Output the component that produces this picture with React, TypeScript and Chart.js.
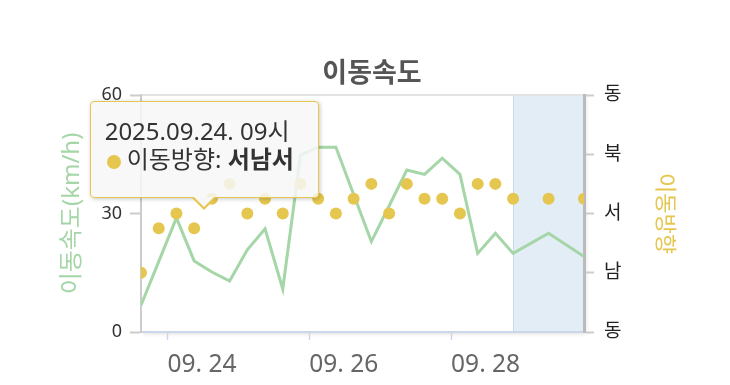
import React, { useEffect, useRef } from 'react';
import { Chart, registerables } from 'chart.js';

Chart.register(...registerables);

// ---- texts ----
const CHART_TITLE = '이동속도';
const SPEED_AXIS_TITLE = '이동속도(km/h)';
const DIR_AXIS_TITLE = '이동방향';
const SPEED_SERIES_NAME = '이동속도';
const DIR_SERIES_NAME = '이동방향';

// ---- time (hours counted from 2025-09-24 00시) ----
const YEAR = '2025';
const MONTH = '09';
const BASE_DAY = 24;
const hours = [-9, -3, 3, 9, 15, 21, 27, 33, 39, 45, 51, 57, 63, 69, 75, 81, 87, 93, 99, 105, 111, 117, 129, 141];
const X_MIN = -9;
const X_MAX = 141;
const FORECAST_START = 117;

// ---- series values ----
const speeds = [6.8, 17.8, 28.9, 18.0, 15.2, 12.9, 20.8, 26.1, 10.9, 44.8, 46.8, 46.8, 34.8, 22.9, 31.9, 41.0, 39.9, 44.0, 39.9, 19.9, 25.0, 19.9, 25.0, 19.1];
// direction in degrees (0 = 북, 90 = 동, 180 = 남, 270 = 서)
const directions = [180, 247.5, 270, 247.5, 292.5, 315, 270, 292.5, 270, 315, 292.5, 270, 292.5, 315, 270, 315, 292.5, 292.5, 270, 315, 315, 292.5, 292.5, 292.5];

// ---- ticks ----
const X_TICK_HOURS = [0, 48, 96];
const X_TICK_LABELS = ['09. 24', '09. 26', '09. 28'];
const SPEED_TICKS = [0, 30, 60];
const DIR_TICK_VALUES = [90, 180, 270, 360, 450];
const DIR_TICK_LABELS = ['동', '남', '서', '북', '동'];
const COMPASS_16 = ['북', '북북동', '북동', '동북동', '동', '동남동', '남동', '남남동', '남', '남남서', '남서', '서남서', '서', '서북서', '북서', '북북서'];

const HOVER_INDEX = 3;

// ---- styles ----
const FONT = "'Noto Sans', 'Noto Sans CJK KR', sans-serif";
const GREEN = '#a5d6a7';
const GOLD = '#e5c64f';

function hourLabel(h: number): string {
  const day = BASE_DAY + Math.floor(h / 24);
  const hh = ((h % 24) + 24) % 24;
  return `${YEAR}.${MONTH}.${String(day).padStart(2, '0')}. ${String(hh).padStart(2, '0')}시`;
}
function compassName(deg: number): string {
  const i = Math.round((((deg % 360) + 360) % 360) / 22.5) % 16;
  return COMPASS_16[i];
}

const plotDecor = {
  id: 'plotDecor',
  beforeDraw(chart: any) {
    const { ctx, chartArea: a, scales } = chart;
    ctx.save();
    ctx.shadowColor = 'rgba(0,0,0,0.13)';
    ctx.shadowBlur = 4;
    ctx.shadowOffsetX = 2;
    ctx.shadowOffsetY = 2;
    ctx.fillStyle = '#ffffff';
    ctx.fillRect(a.left, a.top, a.right - a.left, a.bottom - a.top);
    ctx.restore();
    const x0 = scales.x.getPixelForValue(FORECAST_START);
    const x1 = scales.x.getPixelForValue(X_MAX);
    ctx.save();
    ctx.fillStyle = '#e3edf6';
    ctx.fillRect(x0, a.top, x1 - x0, a.bottom - a.top);
    ctx.strokeStyle = '#c6daee';
    ctx.lineWidth = 1;
    ctx.beginPath();
    ctx.moveTo(Math.round(x0) + 0.5, a.top);
    ctx.lineTo(Math.round(x0) + 0.5, a.bottom);
    ctx.stroke();
    ctx.strokeStyle = '#e3e3e3';
    ctx.lineWidth = 2;
    ctx.beginPath();
    ctx.moveTo(a.left, a.top);
    ctx.lineTo(a.right, a.top);
    ctx.stroke();
    ctx.restore();
  },
};

function externalTooltip({ chart, tooltip }: any) {
  const parent = chart.canvas.parentNode as HTMLElement;
  let el = parent.querySelector('.cj-tt') as HTMLDivElement | null;
  if (!el) {
    el = document.createElement('div');
    el.className = 'cj-tt';
    parent.appendChild(el);
  }
  if (tooltip.opacity === 0 || !tooltip.dataPoints || !tooltip.dataPoints.length) {
    el.style.display = 'none';
    return;
  }
  const dp = tooltip.dataPoints[0];
  const idx = dp.dataIndex;
  const title = hourLabel(hours[idx]);
  const dirName = compassName(directions[idx]);
  el.style.cssText = [
    'position:absolute',
    'display:block',
    'pointer-events:none',
    'box-sizing:border-box',
    'width:229px',
    'height:97px',
    'background:rgba(247,247,247,0.85)',
    `border:1.5px solid ${GOLD}`,
    'border-radius:4px',
    'box-shadow:1px 1px 4px rgba(0,0,0,0.22)',
    'padding:15px 14px 0 14px',
    `font-family:${FONT}`,
    'font-size:24px',
    'line-height:28px',
    'color:#333',
    'white-space:nowrap',
  ].join(';');
  el.innerHTML =
    `<div>${title}</div>` +
    `<div><span style="display:inline-block;width:14px;height:14px;border-radius:50%;background:${GOLD};margin:0 6px 0 2px;vertical-align:-1px"></span>${DIR_SERIES_NAME}: <b>${dirName}</b></div>` +
    `<div style="position:absolute;left:50%;bottom:-13px;margin-left:-12px;width:0;height:0;border-left:12px solid transparent;border-right:12px solid transparent;border-top:12px solid ${GOLD}"></div>` +
    `<div style="position:absolute;left:50%;bottom:-10px;margin-left:-10px;width:0;height:0;border-left:10px solid transparent;border-right:10px solid transparent;border-top:10px solid #f7f7f7"></div>`;
  const w = el.offsetWidth;
  const h = el.offsetHeight;
  const tipX = tooltip.caretX + 10;
  const tipY = tooltip.caretY - 18;
  el.style.left = `${tipX - w / 2}px`;
  el.style.top = `${tipY - 12 - h}px`;
}

export default function App() {
  const canvasRef = useRef<HTMLCanvasElement | null>(null);

  useEffect(() => {
    const canvas = canvasRef.current;
    if (!canvas) return;
    const chart = new Chart(canvas, {
      type: 'line',
      data: {
        datasets: [
          {
            label: DIR_SERIES_NAME,
            data: hours.map((h, i) => ({ x: h, y: directions[i] })),
            yAxisID: 'yDir',
            showLine: false,
            pointRadius: 6,
            pointHoverRadius: 6,
            pointBackgroundColor: GOLD,
            pointBorderWidth: 0,
            pointHoverBorderWidth: 0,
            pointHoverBackgroundColor: GOLD,
            borderColor: GOLD,
            order: 0,
          },
          {
            label: SPEED_SERIES_NAME,
            data: hours.map((h, i) => ({ x: h, y: speeds[i] })),
            yAxisID: 'ySpeed',
            borderColor: GREEN,
            borderWidth: 3,
            pointRadius: 0,
            pointHoverRadius: 0,
            tension: 0,
            fill: false,
            order: 1,
          },
        ],
      } as any,
      options: {
        responsive: false,
        animation: false,
        devicePixelRatio: 1,
        events: [],
        layout: { padding: { left: 14, right: 0, top: 0, bottom: 0 } },
        scales: {
          x: {
            type: 'linear',
            min: X_MIN,
            max: X_MAX,
            afterBuildTicks: (s: any) => {
              s.ticks = X_TICK_HOURS.map((v) => ({ value: v }));
            },
            afterFit: (s: any) => {
              s.height = 53;
            },
            grid: { drawOnChartArea: false, tickLength: 8, tickColor: '#ccd6eb', tickWidth: 1.5 },
            border: { color: '#ccd6eb', width: 2 },
            ticks: {
              align: 'start',
              autoSkip: false,
              maxRotation: 0,
              padding: 10,
              color: '#666',
              font: { family: FONT, size: 24.5 },
              callback: (v: any) => {
                const i = X_TICK_HOURS.indexOf(Number(v));
                return i >= 0 ? X_TICK_LABELS[i] : '';
              },
            },
          },
          ySpeed: {
            type: 'linear',
            position: 'left',
            min: 0,
            max: 60,
            afterBuildTicks: (s: any) => {
              s.ticks = SPEED_TICKS.map((v) => ({ value: v }));
            },
            afterFit: (s: any) => {
              s.width = 127;
            },
            grid: { drawOnChartArea: false, tickLength: 11, tickColor: '#cccccc', tickWidth: 2 },
            border: { color: '#cccccc', width: 2 },
            ticks: { padding: 8, color: '#333', font: { family: FONT, size: 18 } },
            title: {
              display: true,
              text: SPEED_AXIS_TITLE,
              color: GREEN,
              font: { family: FONT, size: 24 },
              padding: { top: 44, bottom: 0 },
            },
          },
          yDir: {
            type: 'linear',
            position: 'right',
            min: 90,
            max: 450,
            afterBuildTicks: (s: any) => {
              s.ticks = DIR_TICK_VALUES.map((v) => ({ value: v }));
            },
            afterFit: (s: any) => {
              s.width = 146;
            },
            grid: { drawOnChartArea: false, tickLength: 10, tickColor: '#cccccc', tickWidth: 2 },
            border: { color: '#bbbbbb', width: 3 },
            ticks: {
              padding: 10,
              color: '#222',
              font: { family: FONT, size: 19 },
              callback: (v: any) => {
                const i = DIR_TICK_VALUES.indexOf(Number(v));
                return i >= 0 ? DIR_TICK_LABELS[i] : '';
              },
            },
            title: {
              display: true,
              text: DIR_AXIS_TITLE,
              color: GOLD,
              font: { family: FONT, size: 22 },
              padding: { top: 53, bottom: 0 },
            },
          },
        },
        plugins: {
          legend: { display: false },
          title: {
            display: true,
            text: CHART_TITLE,
            color: '#555',
            font: { family: FONT, size: 27, weight: 'bold' },
            padding: { top: 58, bottom: 4.6 },
          },
          tooltip: { enabled: false, external: externalTooltip },
        },
      } as any,
      plugins: [plotDecor],
    });

    chart.tooltip?.setActiveElements([{ datasetIndex: 0, index: HOVER_INDEX }], { x: 0, y: 0 });
    chart.update();

    return () => {
      chart.destroy();
      const parent = canvas.parentNode as HTMLElement | null;
      const tt = parent?.querySelector('.cj-tt');
      if (tt) tt.remove();
    };
  }, []);

  return (
    <div style={{ position: 'fixed', left: 0, top: 0, width: 730, height: 385, background: '#fff' }}>
      <canvas ref={canvasRef} width={730} height={385} style={{ width: 730, height: 385, display: 'block' }} />
    </div>
  );
}
